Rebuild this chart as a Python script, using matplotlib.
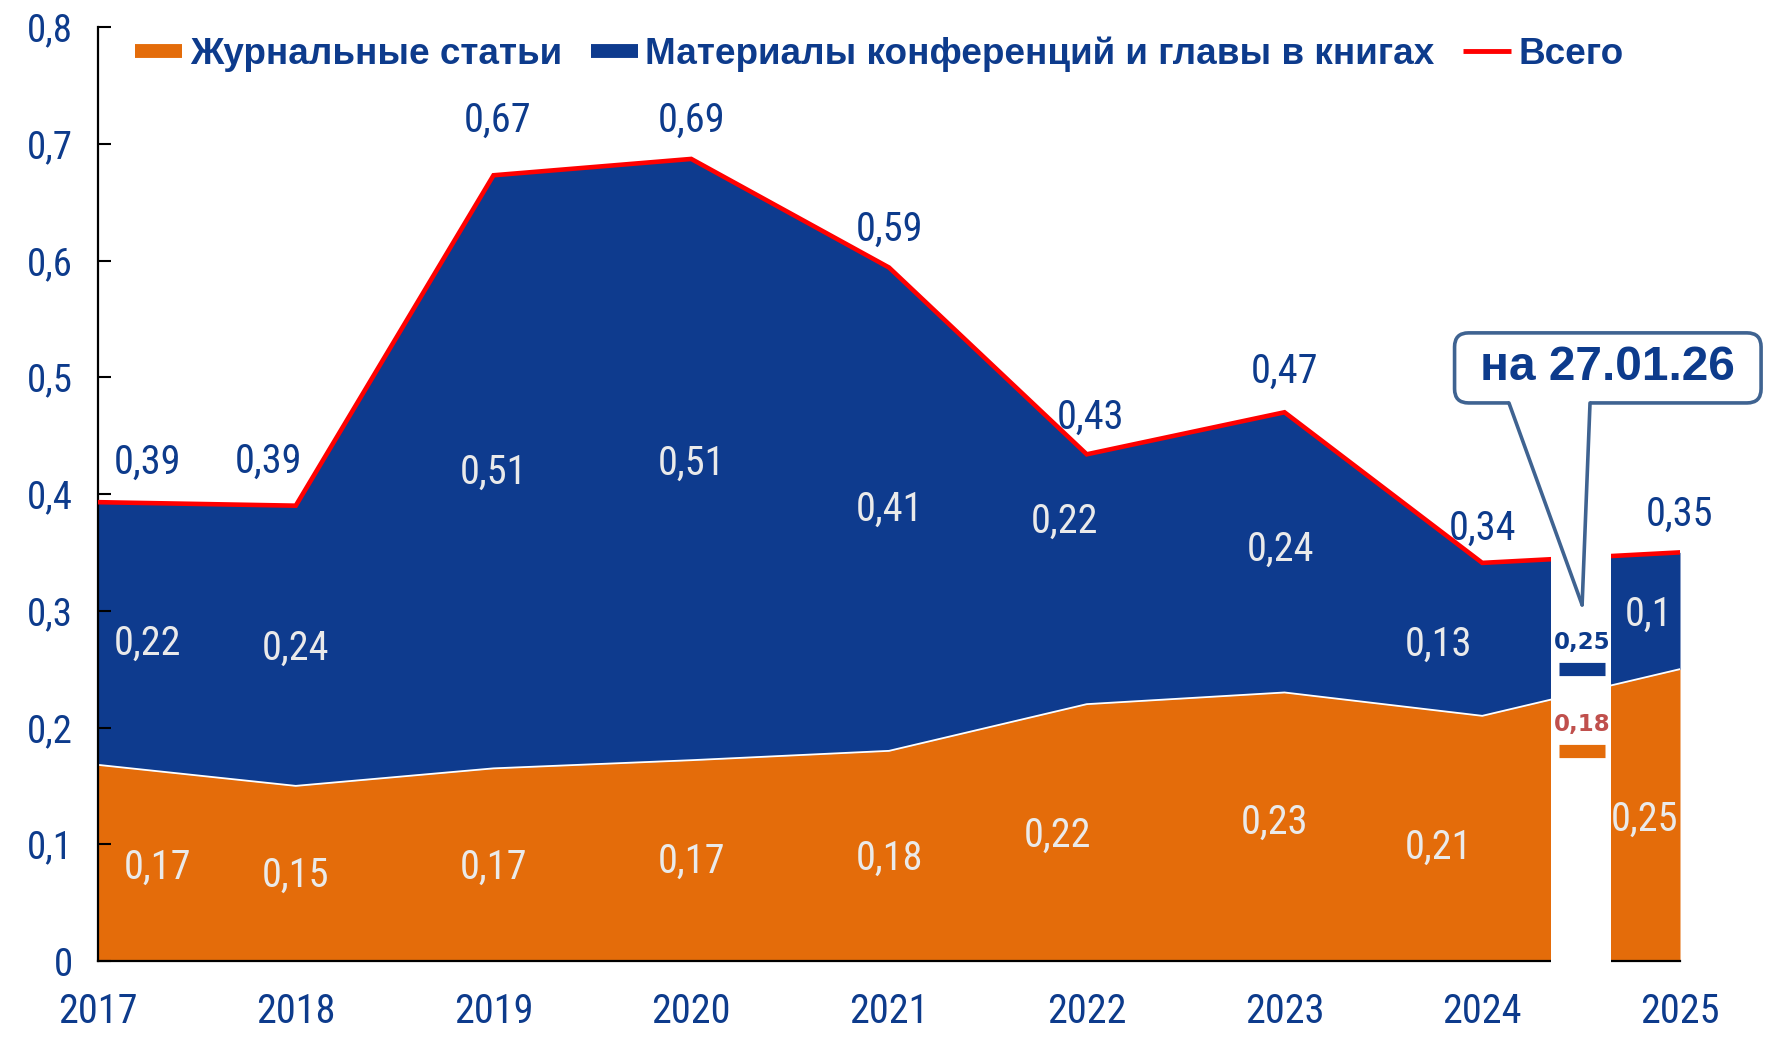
import matplotlib
matplotlib.use('Agg')
import matplotlib.pyplot as plt
from matplotlib import font_manager as fm
from matplotlib.patches import FancyBboxPatch, Polygon, Rectangle
from matplotlib.lines import Line2D
from matplotlib.transforms import IdentityTransform
import numpy as np

# ---------------- data ----------------
years = [2017, 2018, 2019, 2020, 2021, 2022, 2023, 2024, 2025]
journal = [0.168, 0.150, 0.165, 0.172, 0.180, 0.220, 0.230, 0.210, 0.250]
conference = [0.225, 0.240, 0.508, 0.515, 0.414, 0.214, 0.240, 0.131, 0.100]
journal_labels = ['0,17', '0,15', '0,17', '0,17', '0,18', '0,22', '0,23', '0,21', '0,25']
conference_labels = ['0,22', '0,24', '0,51', '0,51', '0,41', '0,22', '0,24', '0,13', '0,1']
total_labels = ['0,39', '0,39', '0,67', '0,69', '0,59', '0,43', '0,47', '0,34', '0,35']
series_names = ['Журнальные статьи', 'Материалы конференций и главы в книгах', 'Всего']
partial_date = 'на 27.01.26'
partial_values = [0.25, 0.18]
partial_labels = ['0,25', '0,18']
yticks = [0, 0.1, 0.2, 0.3, 0.4, 0.5, 0.6, 0.7, 0.8]
ytick_labels = ['0', '0,1', '0,2', '0,3', '0,4', '0,5', '0,6', '0,7', '0,8']

total = [j + c for j, c in zip(journal, conference)]

# ---------------- style ----------------
ORANGE = '#E46C0A'
BLUE = '#0E3B8E'
RED = '#FF0000'
TXT = '#0D3B8C'
INNER = '#EAEAEA'
BOXEDGE = '#3F6391'
PARTIAL_RED = '#C0504D'

avail = {f.name for f in fm.fontManager.ttflist}
NARROW = next((f for f in ['Liberation Sans Narrow', 'Roboto Condensed', 'Arial Narrow',
                           'Open Sans Condensed'] if f in avail), None)
if NARROW is None:
    NARROW = 'Liberation Sans'
    nscale = 0.84
else:
    nscale = 1.0
FAM = [NARROW, 'DejaVu Sans']
plt.rcParams['font.family'] = FAM

# layout offsets (label placement tweaks, in year units / data units)
total_dx = [0.25, -0.14, 0.02, 0.0, 0.0, 0.02, 0.0, 0.0, 0.0]
total_dy = [0.034, 0.038, 0.047, 0.033, 0.033, 0.032, 0.035, 0.030, 0.033]
conf_dx = [0.25, 0.0, 0.0, 0.0, 0.0, -0.11, -0.02, -0.22, -0.16]
conf_dy = [-0.008, -0.002, 0.0, -0.003, 0.0, 0.05, 0.003, -0.004, -0.003]
jour_dx = [0.30, 0.0, 0.0, 0.0, 0.0, -0.15, -0.05, -0.22, -0.18]
jour_dy = [-0.004, -0.002, -0.002, -0.001, -0.002, -0.002, 0.004, -0.008, -0.004]

fig = plt.figure(figsize=(17.68, 10.37), dpi=100)
ax = fig.add_axes([98 / 1768, 1 - 961 / 1037, 1582 / 1768, 934 / 1037])
ax.set_xlim(2017, 2025)
ax.set_ylim(0, 0.8)

ax.fill_between(years, 0, journal, color=ORANGE, lw=0, zorder=1)
ax.fill_between(years, journal, total, color=BLUE, lw=0, zorder=1)
ax.plot(years, journal, color='white', lw=1.3, zorder=2)
ax.plot(years, total, color=RED, lw=3.3, zorder=3, solid_joinstyle='miter')

for s in ['top', 'right']:
    ax.spines[s].set_visible(False)
for s in ['left', 'bottom']:
    ax.spines[s].set_linewidth(1.6)
    ax.spines[s].set_color('black')

ax.set_yticks(yticks)
ax.set_yticklabels(ytick_labels)
ax.tick_params(axis='y', direction='in', length=9, width=1.5, pad=18,
               labelsize=28 * nscale, labelcolor=TXT)
ax.set_xticks(years)
ax.set_xticklabels([str(y) for y in years])
ax.tick_params(axis='x', length=0, pad=22, labelsize=29 * nscale, labelcolor=TXT)

# data labels
LS = 29 * nscale
for i, yr in enumerate(years):
    ax.text(yr + total_dx[i], total[i] + total_dy[i], total_labels[i], ha='center', va='center',
            fontsize=LS, color=TXT, zorder=6)
    ax.text(yr + conf_dx[i], journal[i] + conference[i] / 2 + conf_dy[i], conference_labels[i],
            ha='center', va='center', fontsize=LS, color=INNER, zorder=6)
    ax.text(yr + jour_dx[i], journal[i] / 2 + jour_dy[i], journal_labels[i],
            ha='center', va='center', fontsize=LS, color=INNER, zorder=6)

# gap between 2024 and 2025
gap_l, gap_r = 2024.35, 2024.65
ax.add_patch(Rectangle((gap_l, -0.004), gap_r - gap_l, 0.43, facecolor='white',
                       edgecolor='none', zorder=4, clip_on=False))

# partial-year markers inside gap
bar_l, bar_r = 2024.39, 2024.62
ax.hlines(partial_values, bar_l, bar_r, colors=[BLUE, ORANGE], lw=9.5, zorder=5,
          capstyle='butt')
for v, lab, col in zip(partial_values, partial_labels, [TXT, PARTIAL_RED]):
    ax.annotate(lab, xy=((bar_l + bar_r) / 2, v), xytext=(0, 19), textcoords='offset points',
                ha='center', va='center', fontsize=16.5, fontweight='bold',
                color=col, family='DejaVu Sans', zorder=6)

# legend
handles = [Line2D([], [], color=ORANGE, lw=10, solid_capstyle='butt'),
           Line2D([], [], color=BLUE, lw=10, solid_capstyle='butt'),
           Line2D([], [], color=RED, lw=3.5, solid_capstyle='butt')]
leg = ax.legend(handles, series_names, ncol=3, loc='center left',
                bbox_to_anchor=(37 / 1582, 0.777 / 0.8), frameon=False, borderpad=0,
                borderaxespad=0, handlelength=1.28, handletextpad=0.2, columnspacing=0.78,
                prop={'family': ['Liberation Sans', 'DejaVu Sans'], 'weight': 'bold', 'size': 26.6})
for t in leg.get_texts():
    t.set_color(TXT)

# callout box (in display pixels)
fig.canvas.draw()
def px(x, y):
    return ax.transData.transform((x, y))

bx0, by0 = px(2023.86, 0.478)
bx1, by1 = px(2025.41, 0.538)
box = FancyBboxPatch((bx0, by0), bx1 - bx0, by1 - by0,
                     boxstyle='round,pad=0,rounding_size=14', transform=IdentityTransform(),
                     facecolor='white', edgecolor=BOXEDGE, lw=2.6, zorder=10, clip_on=False)
fig.add_artist(box)
pl = px(2024.135, 0.478)
pr = px(2024.545, 0.478)
tip = px(2024.505, 0.305)
tri = Polygon([(pl[0], pl[1] + 2), (pr[0], pr[1] + 2), (tip[0], tip[1])], closed=True,
              transform=IdentityTransform(), facecolor='white', edgecolor='none', zorder=11)
fig.add_artist(tri)
for p in (pl, pr):
    fig.add_artist(Line2D([p[0], tip[0]], [p[1], tip[1]], transform=IdentityTransform(),
                          color=BOXEDGE, lw=2.6, zorder=12, solid_capstyle='round'))
fig.text((bx0 + bx1) / 2 / 1768, (by0 + by1) / 2 / 1037, partial_date, ha='center', va='center',
         fontsize=34.5, fontweight='bold', color=TXT, family='Liberation Sans', zorder=13)

fig.savefig('out.png', dpi=100)
